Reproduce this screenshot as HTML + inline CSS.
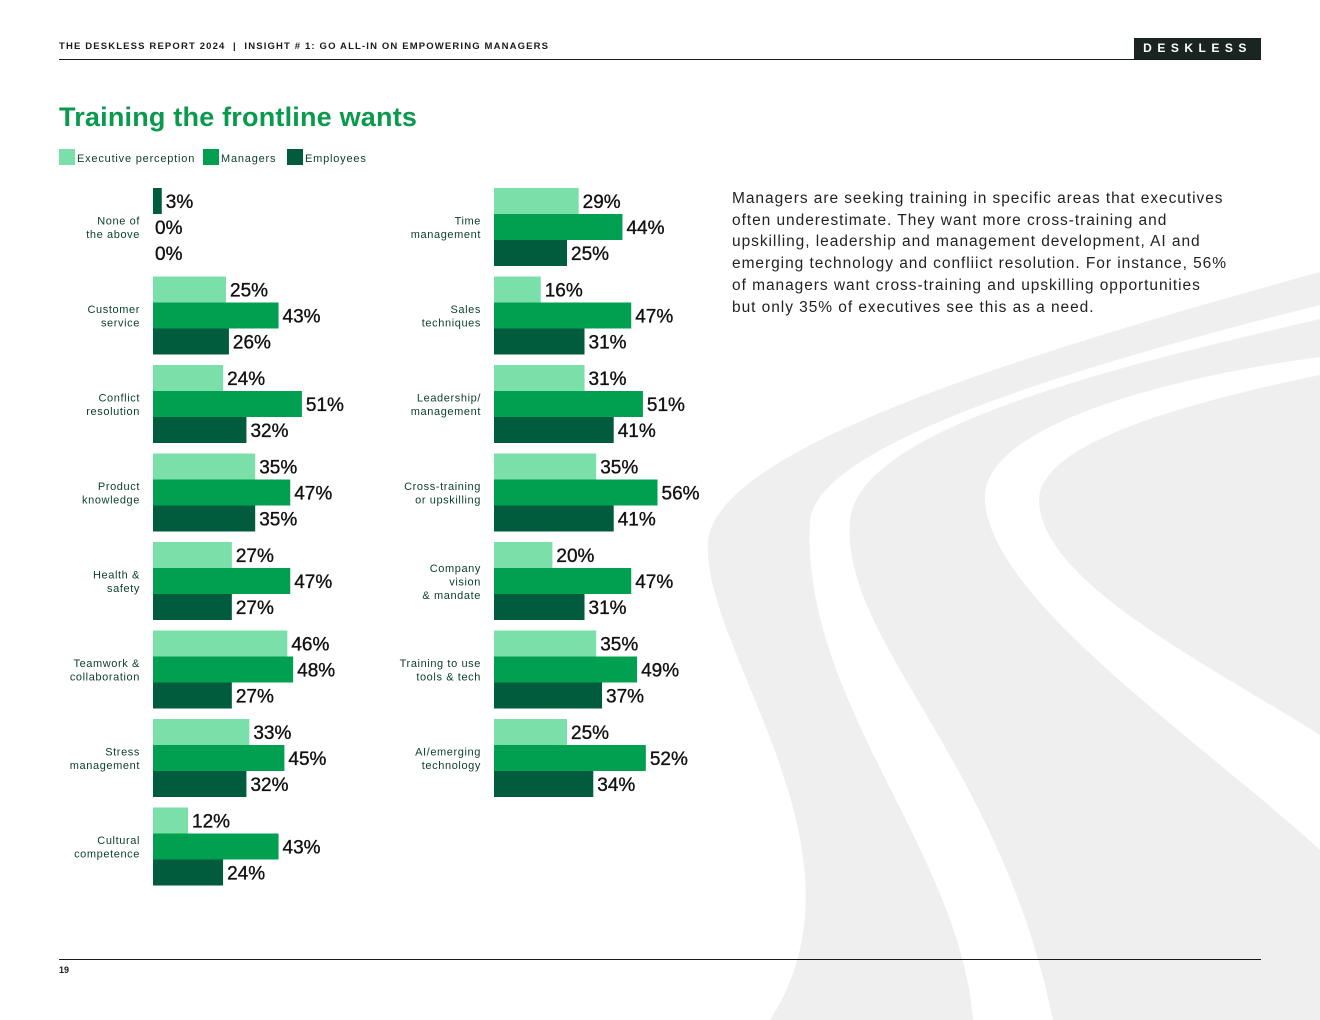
<!DOCTYPE html>
<html><head><meta charset="utf-8"><style>
body{margin:0;width:1320px;height:1020px;position:relative;background:#fff;overflow:hidden;font-family:"Liberation Sans",sans-serif}
.abs{position:absolute}
</style></head><body>
<svg class="abs" style="left:0;top:0" width="1320" height="1020">
<path fill="#eeefee" d="M1320,272 C1000,360 720,450 708,540 C700,650 880,850 770,1020 L973,1020 C960,850 800,700 810,520 C820,440 1100,360 1320,305 Z"/>
<path fill="#eeefee" d="M1320,319 C1100,370 860,430 850,520 C840,640 1000,760 1053,1020 L1320,1020 L1320,850 C1200,740 990,600 985,500 C980,430 1150,380 1320,357 Z"/>
<path fill="#eeefee" d="M1320,375 C1150,410 1040,450 1039,500 C1040,580 1200,660 1320,735 L1320,418 C1260,440 1225,460 1228,480 C1232,520 1280,560 1320,590 Z"/>
</svg>
<div class="abs" style="left:59px;top:41px;font-size:9.5px;font-weight:bold;letter-spacing:1.15px;color:#1a1a1a;white-space:nowrap">THE DESKLESS REPORT 2024 &nbsp;|&nbsp; INSIGHT # 1: GO ALL-IN ON EMPOWERING MANAGERS</div>
<div class="abs" style="left:59px;top:59px;width:1202px;height:1px;background:#1a1a1a"></div>
<div class="abs" style="left:1134px;top:38px;width:127px;height:21px;background:#1a2420;color:#fff;font-size:12px;font-weight:bold;letter-spacing:5.5px;text-align:center;line-height:21px">DESKLESS</div>
<div class="abs" style="left:59px;top:102px;font-size:27px;font-weight:bold;color:#0a9a4e;letter-spacing:0.2px;white-space:nowrap">Training the frontline wants</div>
<div class="abs" style="left:59px;top:149px;font-size:11px;color:#0b3d2a;letter-spacing:0.8px">
<span class="abs" style="left:0;top:0;white-space:nowrap"><span style="display:inline-block;width:16px;height:16px;background:#7adfa8;vertical-align:top"></span><span style="position:relative;top:4px;left:2px">Executive perception</span></span>
<span class="abs" style="left:144px;top:0;white-space:nowrap"><span style="display:inline-block;width:16px;height:16px;background:#00a050;vertical-align:top"></span><span style="position:relative;top:4px;left:2px">Managers</span></span>
<span class="abs" style="left:228px;top:0;white-space:nowrap"><span style="display:inline-block;width:16px;height:16px;background:#005c3c;vertical-align:top"></span><span style="position:relative;top:4px;left:2px">Employees</span></span>
</div>
<div class="abs" style="left:732px;top:188px;font-size:15.5px;line-height:21.7px;color:#222;letter-spacing:0.95px;white-space:nowrap">Managers are seeking training in specific areas that executives<br>often underestimate. They want more cross-training and<br>upskilling, leadership and management development, AI and<br>emerging technology and confliict resolution. For instance, 56%<br>of managers want cross-training and upskilling opportunities<br>but only 35% of executives see this as a need.</div>
<svg id="chart" class="abs" style="left:0;top:0" width="1320" height="1020"></svg>
<div class="abs" style="left:59px;top:959px;width:1202px;height:1px;background:#1a1a1a"></div>
<div class="abs" style="left:59px;top:965px;font-size:9px;font-weight:bold;color:#1a1a1a">19</div>
<script>
const leftCats=["None of|the above","Customer|service","Conflict|resolution","Product|knowledge","Health &|safety","Teamwork &|collaboration","Stress|management","Cultural|competence"];
const leftExec=[3,25,24,35,27,46,33,12];
const leftMgr=[0,43,51,47,47,48,45,43];
const leftEmp=[0,26,32,35,27,27,32,24];
const rightCats=["Time|management","Sales|techniques","Leadership/|management","Cross-training|or upskilling","Company|vision|& mandate","Training to use|tools & tech","AI/emerging|technology"];
const rightExec=[29,16,31,35,20,35,25];
const rightMgr=[44,47,51,56,47,49,52];
const rightEmp=[25,31,41,41,31,37,34];
const colors=["#7adfa8","#00a050","#005c3c"];
const svg=document.getElementById('chart');
const NS="http://www.w3.org/2000/svg";
const scale=2.92, rowTop=188, rowPitch=88.5, barH=26;
function xLen(v){return v*scale;}
function yRow(i){return rowTop+i*rowPitch;}
function drawPanel(x0,labelX,cats,series,prefix){
  cats.forEach((c,i)=>{
    const y=yRow(i);
    const lines=c.split('|');
    const t=document.createElementNS(NS,'text');
    
    
    t.setAttribute('text-anchor','end');
    t.setAttribute('font-size','11');
    t.setAttribute('fill','#0b3d2a');
    t.setAttribute('letter-spacing','0.6');
    t.setAttribute('font-family','Liberation Sans, sans-serif');
    const startY=y+39-(lines.length-1)*6.5+4;
    lines.forEach((ln,k)=>{const ts=document.createElementNS(NS,'tspan');ts.setAttribute('x',labelX);ts.setAttribute('y',startY+k*13.5);ts.textContent=ln;t.appendChild(ts);});
    svg.appendChild(t);
    series.forEach((arr,s)=>{
      const v=arr[i];
      const by=y+s*barH;
      let col=colors[s];
      if(prefix==='left'&&i===0&&s===0)col=colors[2];
      if(v>0){
        const r=document.createElementNS(NS,'rect');
        
        
        r.setAttribute('x',x0);r.setAttribute('y',by);
        r.setAttribute('width',xLen(v));r.setAttribute('height',barH);
        r.setAttribute('fill',col);
        svg.appendChild(r);
      }
      const vt=document.createElementNS(NS,'text');
      
      
      vt.setAttribute('x',x0+xLen(v)+(v>0?4:2));
      vt.setAttribute('y',by+20);
      vt.setAttribute('font-size','19');
      vt.setAttribute('fill','#111');
      vt.setAttribute('stroke','#111');
      vt.setAttribute('stroke-width','0.35');
      vt.setAttribute('font-family','Liberation Sans, sans-serif');
      vt.textContent=v+'%';
      svg.appendChild(vt);
    });
  });
}
drawPanel(153,140,leftCats,[leftExec,leftMgr,leftEmp],'left');
drawPanel(494,481,rightCats,[rightExec,rightMgr,rightEmp],'right');
</script>
</body></html>
